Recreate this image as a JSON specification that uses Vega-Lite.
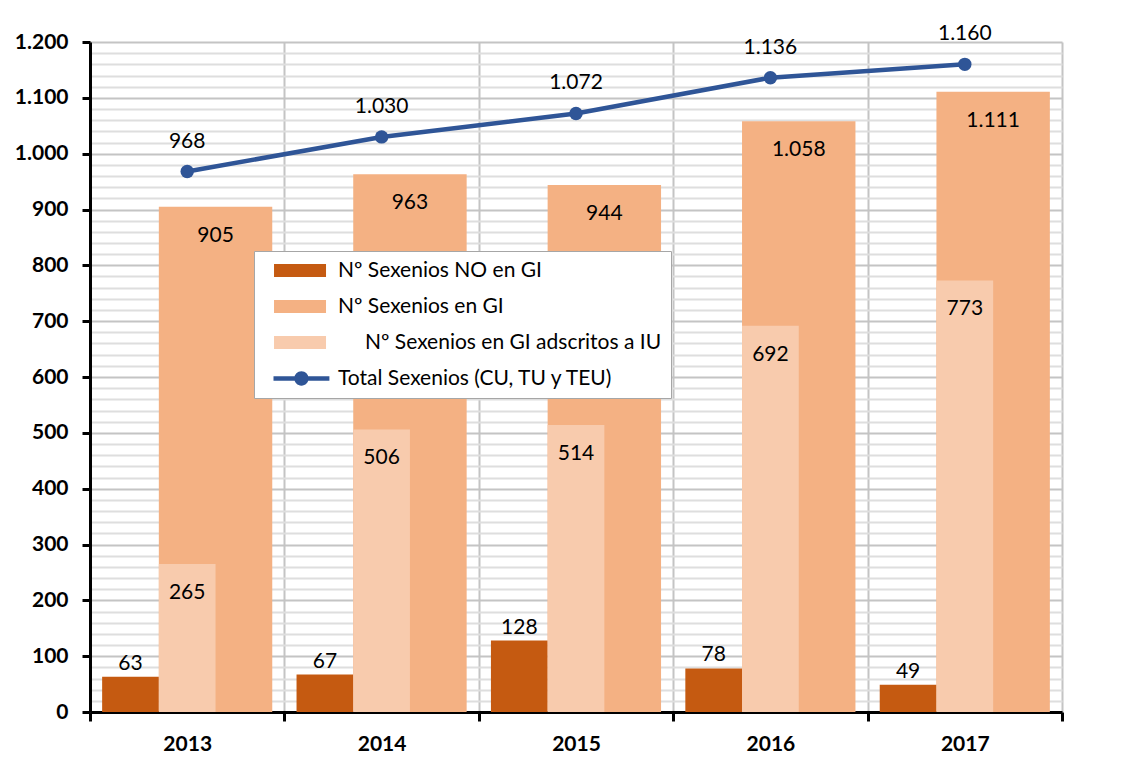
{
  "$schema": "https://vega.github.io/schema/vega-lite/v6.json",
  "width": 972,
  "height": 670,
  "autosize": {"type": "none"},
  "padding": {"left": 90, "top": 42, "right": 70, "bottom": 49},
  "background": "white",
  "config": {
    "view": {"stroke": null},
    "font": "Lato",
    "locale": {"number": {"decimal": ",", "thousands": ".", "grouping": [3], "currency": ["", " €"]}}
  },
  "data": {
    "values": [
      {"year": "2013", "serie": "Nº Sexenios NO en GI", "value": 63},
      {"year": "2014", "serie": "Nº Sexenios NO en GI", "value": 67},
      {"year": "2015", "serie": "Nº Sexenios NO en GI", "value": 128},
      {"year": "2016", "serie": "Nº Sexenios NO en GI", "value": 78},
      {"year": "2017", "serie": "Nº Sexenios NO en GI", "value": 49},
      {"year": "2013", "serie": "Nº Sexenios en GI", "value": 905},
      {"year": "2014", "serie": "Nº Sexenios en GI", "value": 963},
      {"year": "2015", "serie": "Nº Sexenios en GI", "value": 944},
      {"year": "2016", "serie": "Nº Sexenios en GI", "value": 1058},
      {"year": "2017", "serie": "Nº Sexenios en GI", "value": 1111},
      {"year": "2013", "serie": "Nº Sexenios en GI adscritos a IU", "value": 265},
      {"year": "2014", "serie": "Nº Sexenios en GI adscritos a IU", "value": 506},
      {"year": "2015", "serie": "Nº Sexenios en GI adscritos a IU", "value": 514},
      {"year": "2016", "serie": "Nº Sexenios en GI adscritos a IU", "value": 692},
      {"year": "2017", "serie": "Nº Sexenios en GI adscritos a IU", "value": 773},
      {"year": "2013", "serie": "Total Sexenios (CU, TU y TEU)", "value": 968},
      {"year": "2014", "serie": "Total Sexenios (CU, TU y TEU)", "value": 1030},
      {"year": "2015", "serie": "Total Sexenios (CU, TU y TEU)", "value": 1072},
      {"year": "2016", "serie": "Total Sexenios (CU, TU y TEU)", "value": 1136},
      {"year": "2017", "serie": "Total Sexenios (CU, TU y TEU)", "value": 1160}
    ]
  },
  "encoding": {
    "x": {
      "field": "year", "type": "nominal",
      "scale": {"paddingInner": 0, "paddingOuter": 0},
      "axis": {
        "title": null, "labelAngle": 0, "labelFont": "Lato", "labelFontSize": 21, "labelFontWeight": "bold",
        "labelColor": "#000", "labelPadding": 12, "domainColor": "#000", "domainWidth": 3,
        "tickBand": "extent", "tickColor": "#000", "tickWidth": 3, "tickSize": 9,
        "grid": true, "gridColor": "#c4c4c4", "gridWidth": 2, "zindex": 0
      }
    },
    "y": {
      "field": "value", "type": "quantitative",
      "scale": {"domain": [0, 1200], "nice": false},
      "axis": {
        "title": null,
        "values": [0,20,40,60,80,100,120,140,160,180,200,220,240,260,280,300,320,340,360,380,400,420,440,460,480,500,520,540,560,580,600,620,640,660,680,700,720,740,760,780,800,820,840,860,880,900,920,940,960,980,1000,1020,1040,1060,1080,1100,1120,1140,1160,1180,1200],
        "format": ",d",
        "labelExpr": "datum.value % 100 === 0 ? datum.label : ''",
        "labelOverlap": false,
        "labelFont": "Lato", "labelFontSize": 21, "labelFontWeight": "bold", "labelColor": "#000", "labelPadding": 14,
        "domainColor": "#000", "domainWidth": 3,
        "tickColor": "#000", "tickWidth": 3, "tickSize": 8,
        "tickOpacity": {"condition": {"test": "datum.value % 100 === 0", "value": 1}, "value": 0},
        "grid": true,
        "gridColor": {"condition": {"test": "datum.value % 100 === 0", "value": "#c4c4c4"}, "value": "#dedede"},
        "gridWidth": 2, "zindex": 0
      }
    },
    "color": {
      "field": "serie", "type": "nominal",
      "scale": {
        "domain": ["Nº Sexenios NO en GI", "Nº Sexenios en GI", "Nº Sexenios en GI adscritos a IU", "Total Sexenios (CU, TU y TEU)"],
        "range": ["#C55A11", "#F4B183", "#F8CBAD", "#2F5597"]
      },
      "legend": {
        "title": null, "orient": "none", "legendX": 164, "legendY": 209, "direction": "vertical",
        "fillColor": "#ffffff", "strokeColor": "#a6a6a6", "padding": 9, "rowPadding": 14,
        "symbolSize": 169, "symbolStrokeWidth": 0,
        "labelFont": "Lato", "labelFontSize": 21, "labelColor": "#000", "labelLimit": 500, "labelOffset": 54,
        "encode": {
          "symbols": {
            "update": {
              "shape": {"signal": "datum.value === 'Total Sexenios (CU, TU y TEU)' ? 'M0,-0.36H8.6V0.36H0Z M3.2,0A1.1,1.1 0 1,1 5.4,0A1.1,1.1 0 1,1 3.2,0Z' : 'M0.08,-1H8.08V1H0.08Z'"},
              "fill": {"scale": "color", "field": "value"},
              "stroke": {"value": "transparent"},
              "strokeWidth": {"value": 0},
              "opacity": {"value": 1},
              "fillOpacity": {"value": 1}
            }
          },
          "labels": {
            "update": {
              "dx": {"signal": "datum.value === 'Nº Sexenios en GI adscritos a IU' ? 27 : 0"}
            }
          }
        }
      }
    }
  },
  "layer": [
    {
      "transform": [{"filter": "datum.serie === 'Nº Sexenios en GI'"}],
      "encoding": {
        "xOffset": {"field": "serie", "scale": {"domain": ["Nº Sexenios en GI"], "paddingInner": 0, "paddingOuter": 0.357, "align": 0.85}}
      },
      "layer": [
        {"mark": {"type": "bar", "opacity": 1}},
        {
          "mark": {"type": "text", "baseline": "alphabetic", "dy": 35, "fontSize": 21, "font": "Lato"},
          "encoding": {"text": {"field": "value", "type": "quantitative", "format": ",d"}, "color": {"value": "#000"}}
        }
      ]
    },
    {
      "transform": [{"filter": "datum.serie === 'Nº Sexenios NO en GI' || datum.serie === 'Nº Sexenios en GI adscritos a IU'"}],
      "encoding": {
        "xOffset": {"field": "serie", "scale": {"domain": ["Nº Sexenios NO en GI", "Nº Sexenios en GI adscritos a IU", "Nº Sexenios en GI"], "paddingInner": 0, "paddingOuter": 0.214}}
      },
      "layer": [
        {"mark": {"type": "bar", "opacity": 1}},
        {
          "transform": [{"filter": "datum.serie === 'Nº Sexenios NO en GI'"}],
          "mark": {"type": "text", "baseline": "alphabetic", "dy": -7, "fontSize": 21, "font": "Lato"},
          "encoding": {"text": {"field": "value", "type": "quantitative", "format": ",d"}, "color": {"value": "#000"}}
        },
        {
          "transform": [{"filter": "datum.serie === 'Nº Sexenios en GI adscritos a IU'"}],
          "mark": {"type": "text", "baseline": "alphabetic", "dy": 35, "fontSize": 21, "font": "Lato"},
          "encoding": {"text": {"field": "value", "type": "quantitative", "format": ",d"}, "color": {"value": "#000"}}
        }
      ]
    },
    {
      "transform": [{"filter": "datum.serie === 'Total Sexenios (CU, TU y TEU)'"}],
      "layer": [
        {"mark": {"type": "line", "strokeWidth": 4.5}},
        {"mark": {"type": "point", "filled": true, "size": 180, "opacity": 1}},
        {
          "mark": {"type": "text", "baseline": "alphabetic", "dy": -24, "fontSize": 21, "font": "Lato"},
          "encoding": {"text": {"field": "value", "type": "quantitative", "format": ",d"}, "color": {"value": "#000"}}
        }
      ]
    }
  ],
  "resolve": {"scale": {"xOffset": "independent"}}
}
